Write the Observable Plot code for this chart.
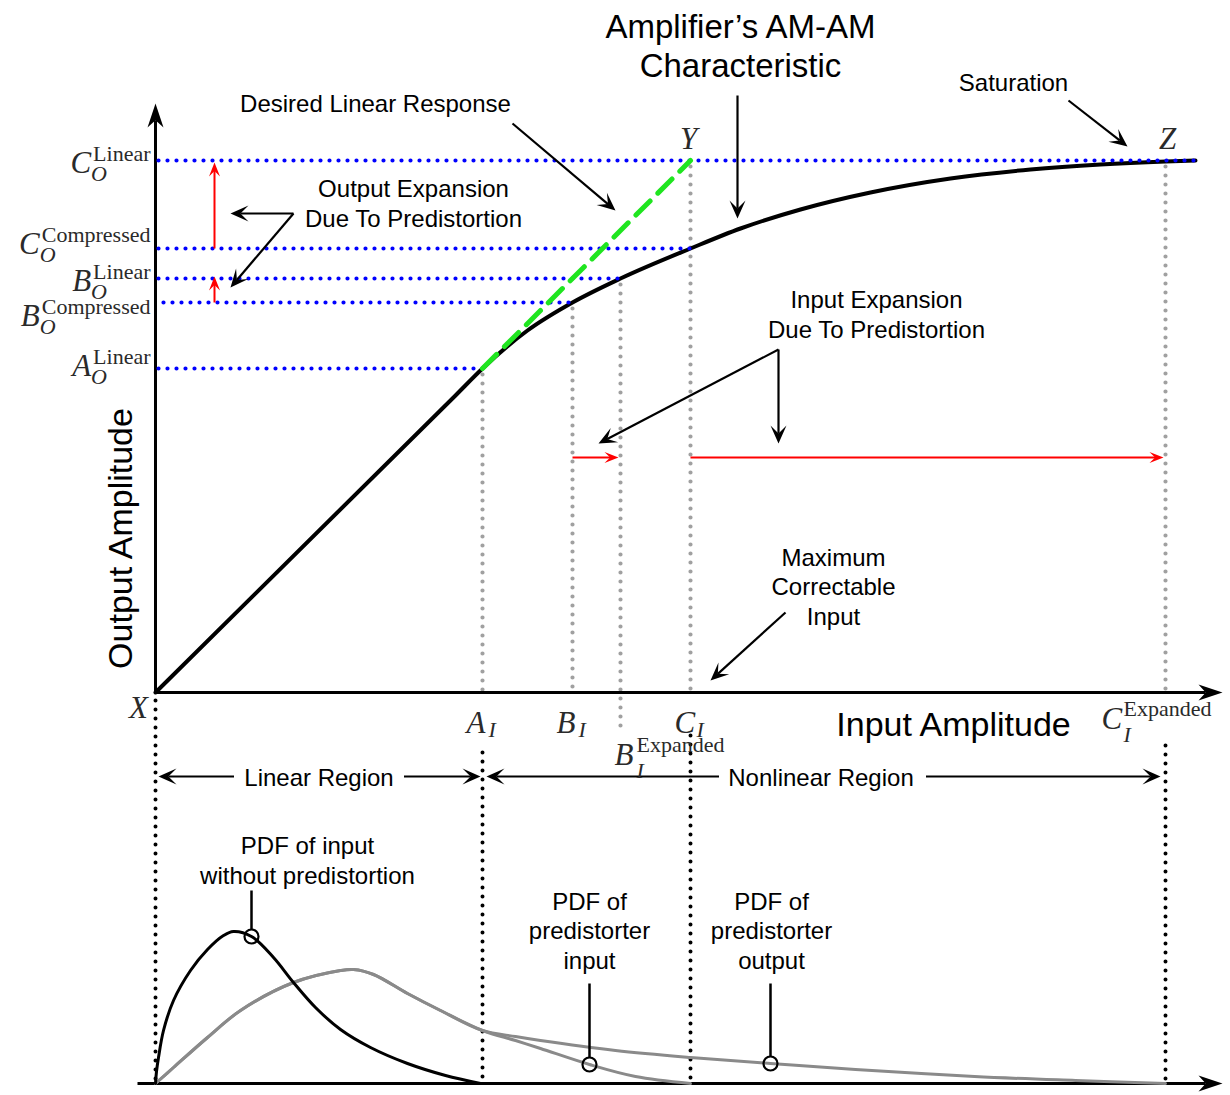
<!DOCTYPE html>
<html><head><meta charset="utf-8">
<script src="https://cdn.jsdelivr.net/npm/d3@7"></script>
<script src="https://cdn.jsdelivr.net/npm/@observablehq/plot@0.6"></script>
<style>
html,body{margin:0;padding:0;background:#fff;}
#chart{width:1230px;height:1095px;overflow:hidden;}
</style></head><body><div id="chart"></div>
<script>
// ---------- data (units: input / output amplitude, origin at point X) ----------
const inputNames  = ["A_I", "B_I", "B_I_exp", "C_I", "C_I_exp"];
const inputValues = [327, 417, 465, 535, 1010];
const outputNames  = ["A_O_lin", "B_O_comp", "B_O_lin", "C_O_comp", "C_O_lin"];
const outputValues = [324, 390, 414, 444, 532];

// Amplifier AM-AM characteristic
const amIn  = [0, 300, 327, 372, 417, 465, 535, 585, 645, 715, 795, 875, 945, 1010, 1040];
const amOut = [0, 297, 324, 362, 390, 414, 444, 464, 483, 500, 514, 523, 528, 531, 532];
// Desired linear response (dashed green)
const linIn  = [327, 535];
const linOut = [324, 532];

// PDFs (heights above the lower axis)
const pdfInX = [0, 1, 3, 8, 18, 35, 52, 68, 78, 96, 118, 138, 160, 185, 215, 252, 290, 325];
const pdfInH = [0, 12, 26, 53, 83, 113, 134, 148, 152, 147, 126, 101, 76, 54, 36, 20, 8, 0];
const pdfCommonX = [0, 18, 52, 85, 138, 185, 198, 218, 252, 285, 327];
const pdfCommonH = [0, 16, 46, 73, 101, 113, 114, 109, 90, 73, 53];
const predInTailX = [360, 385, 434, 480, 535];
const predInTailH = [43, 35, 19, 7, 0];
const predOutTailX = [360, 385, 460, 535, 615, 700, 819, 920, 1010];
const predOutTailH = [47, 43, 33, 26, 20, 14, 7, 3, 0];
const pdfMarkerX = [96, 434, 615];
const pdfMarkerH = [147, 19, 20];
const pdfPointerTop = [193, 100, 100];

// ---------- layout constants ----------
const W = 1230, H = 1095, X0 = 155, Y0 = 692;
const PDF_BASE = -391, REGION_Y = -84, RED_IN_Y = 235, RED_OUT_X = 59;
const v = n => inputValues[inputNames.indexOf(n)];
const o = n => outputValues[outputNames.indexOf(n)];

const SANS = "'Liberation Sans', Arial, sans-serif";
const SERIF = "'Liberation Serif', 'Times New Roman', serif";
const MATH = "#2a2a2a";

// ---------- derived geometry ----------
const amData = amIn.map((x, i) => ({x, y: amOut[i]}));
const linData = linIn.map((x, i) => ({x, y: linOut[i]}));
const pdfIn = pdfInX.map((x, i) => ({x, h: pdfInH[i]}));
const pdfCommon = pdfCommonX.map((x, i) => ({x, h: pdfCommonH[i]}));
const pdfPredIn = pdfCommon.concat(predInTailX.map((x, i) => ({x, h: predInTailH[i]})));
const pdfPredOut = pdfCommon.concat(predOutTailX.map((x, i) => ({x, h: predOutTailH[i]})));
const pdfMarkers = pdfMarkerX.map((x, i) => ({x, h: pdfMarkerH[i], top: pdfPointerTop[i]}));

const blueEnds = {A_O_lin: v("A_I"), B_O_comp: v("B_I"), B_O_lin: v("B_I_exp"), C_O_comp: v("C_I"), C_O_lin: amIn[amIn.length - 1]};
const blueLines = outputNames.map(n => ({x1: n === "B_O_comp" ? 8 : 3, x2: blueEnds[n], y: o(n)}));
const grayTops = {A_I: o("A_O_lin"), B_I: o("B_O_comp"), B_I_exp: o("B_O_lin"), C_I: o("C_O_lin"), C_I_exp: o("C_O_lin")};
const grayLines = inputNames.map(n => ({x: v(n), y1: grayTops[n] - 6, y2: n === "B_I_exp" ? -40 : 0}));
const blackDotX = [0, v("A_I"), v("C_I"), v("C_I_exp")];
const blackDotTop = [-8, -60, -43, -53];
const blackDots = blackDotX.map((x, i) => ({x, y1: blackDotTop[i], y2: PDF_BASE}));

function arrowParts(list, len, notch) {
  return list.map(([x1, y1, x2, y2]) => {
    const dx = x2 - x1, dy = y2 - y1, L = Math.hypot(dx, dy);
    const k = (L - len * notch) / L;
    return {x1, y1, x2: x1 + dx * k, y2: y1 + dy * k, tx: x2, ty: y2, rot: Math.atan2(dx, dy) * 180 / Math.PI};
  });
}
const head = (len, half, notch) => ({
  draw(ctx) { ctx.moveTo(0, 0); ctx.lineTo(half, len); ctx.lineTo(0, len * notch); ctx.lineTo(-half, len); ctx.closePath(); }
});

const axisArrows = arrowParts([
  [0, 0, 0, 589],
  [0, 0, 1067, 0],
  [-18, PDF_BASE, 1067, PDF_BASE]
], 24, 0.7);
const linMid = v("A_I") / 2, nonMid = (v("A_I") + v("C_I_exp")) / 2;
const calloutArrows = arrowParts([
  [582, 597, 582, 474],          // AM-AM characteristic
  [357, 569, 460, 482],          // desired linear response
  [913, 592, 972, 546],          // saturation
  [138, 479, 75, 479],           // output expansion (1)
  [138, 479, 75, 405],           // output expansion (2)
  [623, 343, 443, 249],          // input expansion (1)
  [623, 343, 623, 249],          // input expansion (2)
  [630, 80, 555, 12],            // maximum correctable input
  [linMid - 85, REGION_Y, 3, REGION_Y],
  [linMid + 85, REGION_Y, v("A_I") - 2, REGION_Y],
  [nonMid - 105, REGION_Y, v("A_I") + 4, REGION_Y],
  [nonMid + 102, REGION_Y, v("C_I_exp") - 5, REGION_Y]
], 18, 0.55);
const redArrows = arrowParts([
  [RED_OUT_X, o("C_O_comp"), RED_OUT_X, o("C_O_lin") - 2],
  [RED_OUT_X, o("B_O_comp"), RED_OUT_X, o("B_O_lin") + 2],
  [v("B_I"), RED_IN_Y, v("B_I_exp") - 2, RED_IN_Y],
  [v("C_I"), RED_IN_Y, v("C_I_exp") - 2, RED_IN_Y]
], 14, 0.6);

// ---------- text ----------
const bigText = [
  {x: 585, y: 616, t: "Amplifier’s AM-AM\nCharacteristic"},
];
const bigText2 = [
  {x: 798, y: -43, t: "Input Amplitude"}
];
const labelText = [
  {x: 220, y: 581, t: "Desired Linear Response"},
  {x: 858, y: 602, t: "Saturation"},
  {x: 258, y: 466, t: "Output Expansion\nDue To Predistortion"},
  {x: 721, y: 355, t: "Input Expansion\nDue To Predistortion"},
  {x: 678, y: 68, t: "Maximum\nCorrectable\nInput"},
  {x: linMid, y: -93, t: "Linear Region"},
  {x: nonMid - 3, y: -93, t: "Nonlinear Region"},
  {x: 152, y: -191, t: "PDF of input\nwithout predistortion"},
  {x: 434, y: -276, t: "PDF of\npredistorter\ninput"},
  {x: 616, y: -276, t: "PDF of\npredistorter\noutput"}
];

// math labels
const cv = document.createElement("canvas").getContext("2d");
const SUP = 22, BASE = 31, SUB = 22;
cv.font = `${SUP}px ${SERIF}`;
const outBase = ["A", "B", "B", "C", "C"];
const outSup = ["Linear", "Compressed", "Linear", "Compressed", "Linear"];
const outNudge = [7, 23, 12, 5, 12];
const mBaseEnd = [], mSupEnd = [], mSubStart = [], mBaseStart = [], mSupStart = [];
outputNames.forEach((n, i) => {
  const w = cv.measureText(outSup[i]).width;
  const by = o(n) - outNudge[i];
  mSupEnd.push({x: -5, y: by + 12, t: outSup[i]});
  mBaseEnd.push({x: -5 - w - 2, y: by, t: outBase[i]});
  mSubStart.push({x: -5 - w - 2, y: by - 8, t: "O"});
});
const inBase = ["A", "B", "B", "C", "C"];
const inSup = ["", "", "Expanded", "", "Expanded"];
const inBaseDx = [-16, -16, -6, -16, -64];
const inBaseY = [-40, -40, -72, -40, -36];
inputNames.forEach((n, i) => {
  const bx = v(n) + inBaseDx[i], by = inBaseY[i];
  mBaseStart.push({x: bx, y: by, t: inBase[i]});
  if (inSup[i]) {
    mSupStart.push({x: bx + 22, y: by + 13, t: inSup[i]});
    mSubStart.push({x: bx + 22, y: by - 13, t: "I"});
  } else {
    mSubStart.push({x: bx + 22, y: by - 4, t: "I"});
  }
});
const pointLabels = [
  {x: -17, y: -25, t: "X"},
  {x: v("C_I") - 2, y: o("C_O_lin") + 12, t: "Y"},
  {x: v("C_I_exp") + 2, y: o("C_O_lin") + 12, t: "Z"}
];

const dotted = c => ({stroke: c, strokeWidth: 4.2, strokeDasharray: "0 9", strokeLinecap: "round"});
const pdfY = d => PDF_BASE + d.h;

const plot = Plot.plot({
  width: W, height: H, margin: 0,
  x: {domain: [-X0, W - X0], range: [0, W], axis: null},
  y: {domain: [Y0 - H, Y0], range: [H, 0], axis: null},
  style: {background: "white", overflow: "visible"},
  marks: [
    // dotted guides
    Plot.link(grayLines, {x1: "x", x2: "x", y1: "y1", y2: "y2", ...dotted("#a0a0a0")}),
    Plot.link(blackDots, {x1: "x", x2: "x", y1: "y1", y2: "y2", ...dotted("#000"), strokeWidth: 4}),
    // axes
    Plot.link(axisArrows, {x1: "x1", y1: "y1", x2: "x2", y2: "y2", stroke: "black", strokeWidth: 3}),
    Plot.dot(axisArrows, {x: "tx", y: "ty", rotate: "rot", symbol: head(24, 8, 0.7), r: 5, fill: "black", stroke: "none"}),
    // AM-AM curve
    Plot.line(amData, {x: "x", y: "y", curve: "monotone-x", stroke: "black", strokeWidth: 4}),
    Plot.link(blueLines, {x1: "x1", x2: "x2", y1: "y", y2: "y", ...dotted("#0000ff")}),
    Plot.line(linData, {x: "x", y: "y", stroke: "#1fe51f", strokeWidth: 5, strokeDasharray: "20 11"}),
    // PDFs
    Plot.line(pdfPredOut, {x: "x", y: pdfY, curve: "catmull-rom", stroke: "#8a8a8a", strokeWidth: 3}),
    Plot.line(pdfPredIn, {x: "x", y: pdfY, curve: "catmull-rom", stroke: "#8a8a8a", strokeWidth: 3}),
    Plot.line(pdfIn, {x: "x", y: pdfY, curve: "catmull-rom", stroke: "black", strokeWidth: 3}),
    Plot.link(pdfMarkers, {x1: "x", x2: "x", y1: d => PDF_BASE + d.top, y2: d => PDF_BASE + d.h + 7, stroke: "black", strokeWidth: 2.5}),
    Plot.dot(pdfMarkers, {x: "x", y: pdfY, r: 7, stroke: "black", strokeWidth: 2.2, fill: "none"}),
    // callouts
    Plot.link(calloutArrows, {x1: "x1", y1: "y1", x2: "x2", y2: "y2", stroke: "black", strokeWidth: 2.2}),
    Plot.dot(calloutArrows, {x: "tx", y: "ty", rotate: "rot", symbol: head(18, 8, 0.55), r: 5, fill: "black", stroke: "none"}),
    Plot.link(redArrows, {x1: "x1", y1: "y1", x2: "x2", y2: "y2", stroke: "#ff0000", strokeWidth: 2}),
    Plot.dot(redArrows, {x: "tx", y: "ty", rotate: "rot", symbol: head(14, 5.5, 0.6), r: 5, fill: "#ff0000", stroke: "none"}),
    // sans text
    Plot.text(bigText, {x: "x", y: "y", text: "t", fontSize: 33, fontFamily: SANS, lineAnchor: "bottom", lineHeight: 1.17, fill: "black"}),
    Plot.text(bigText2, {x: "x", y: "y", text: "t", fontSize: 34, fontFamily: SANS, lineAnchor: "bottom", fill: "black"}),
    Plot.text([{x: -34, y: 154, t: "Output Amplitude"}], {x: "x", y: "y", text: "t", rotate: -90, fontSize: 34, fontFamily: SANS, fill: "black"}),
    Plot.text(labelText, {x: "x", y: "y", text: "t", fontSize: 24, fontFamily: SANS, lineAnchor: "bottom", lineHeight: 1.22, fill: "black"}),
    // math labels
    Plot.text(mBaseEnd, {x: "x", y: "y", text: "t", textAnchor: "end", fontSize: BASE, fontStyle: "italic", fontFamily: SERIF, lineAnchor: "bottom", fill: MATH}),
    Plot.text(mBaseStart, {x: "x", y: "y", text: "t", textAnchor: "start", fontSize: BASE, fontStyle: "italic", fontFamily: SERIF, lineAnchor: "bottom", fill: MATH}),
    Plot.text(mSupEnd, {x: "x", y: "y", text: "t", textAnchor: "end", fontSize: SUP, fontFamily: SERIF, lineAnchor: "bottom", fill: MATH}),
    Plot.text(mSupStart, {x: "x", y: "y", text: "t", textAnchor: "start", fontSize: SUP, fontFamily: SERIF, lineAnchor: "bottom", fill: MATH}),
    Plot.text(mSubStart, {x: "x", y: "y", text: "t", textAnchor: "start", fontSize: SUB, fontStyle: "italic", fontFamily: SERIF, lineAnchor: "bottom", fill: MATH}),
    Plot.text(pointLabels, {x: "x", y: "y", text: "t", fontSize: BASE, fontStyle: "italic", fontFamily: SERIF, lineAnchor: "bottom", fill: MATH})
  ]
});
document.getElementById("chart").appendChild(plot);
</script>
</body></html>
